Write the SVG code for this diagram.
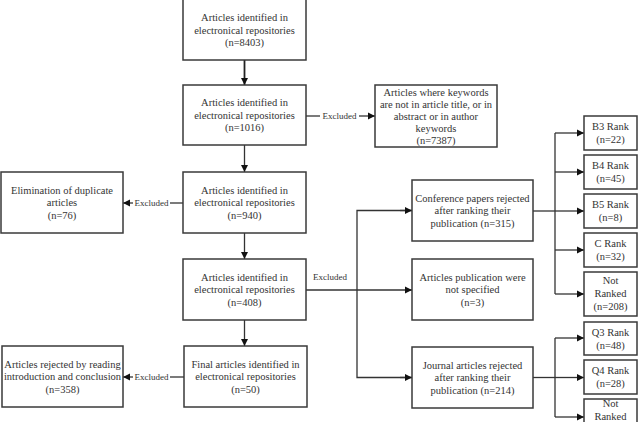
<svg xmlns="http://www.w3.org/2000/svg" width="639" height="422" viewBox="0 0 639 422">
<style>
.box{fill:#fff;stroke:#3a3a3a;stroke-width:1.5}
.t{font-family:"Liberation Serif","Times New Roman",serif;font-size:10.5px;fill:#333;text-anchor:middle}
.ex{font-family:"Liberation Serif","Times New Roman",serif;font-size:9px;fill:#333;text-anchor:middle}
.ln{fill:none;stroke:#333;stroke-width:1.3}
.lnb{fill:none;stroke:#222;stroke-width:1.8}
</style>
<defs>
<marker id="ah" markerUnits="userSpaceOnUse" markerWidth="8" markerHeight="8" refX="7" refY="4" orient="auto">
<path d="M0,0.5 L7,4 L0,7.5 z" fill="#111"/>
</marker>
</defs>
<rect width="639" height="422" fill="#fff"/>

<g id="connectors">
<line class="lnb" x1="244.5" y1="60" x2="244.5" y2="85" marker-end="url(#ah)"/>
<line class="ln" x1="244.5" y1="145" x2="244.5" y2="172" marker-end="url(#ah)"/>
<line class="ln" x1="244.5" y1="233" x2="244.5" y2="259" marker-end="url(#ah)"/>
<line class="ln" x1="244.5" y1="320" x2="244.5" y2="346" marker-end="url(#ah)"/>
<!-- box2 -> keywords -->
<line class="ln" x1="306" y1="116" x2="320" y2="116"/>
<text class="ex" x="339.5" y="119">Excluded</text>
<line class="ln" x1="359" y1="116" x2="375" y2="116" marker-end="url(#ah)"/>
<!-- box3 -> elimination -->
<line class="ln" x1="183" y1="203" x2="170" y2="203"/>
<text class="ex" x="151.5" y="206">Excluded</text>
<line class="ln" x1="133" y1="203" x2="123" y2="203" marker-end="url(#ah)"/>
<!-- box5 -> rejected -->
<line class="ln" x1="184" y1="377" x2="170" y2="377"/>
<text class="ex" x="151.5" y="380">Excluded</text>
<line class="ln" x1="133" y1="377" x2="123" y2="377" marker-end="url(#ah)"/>
<!-- box4 -> three -->
<text class="ex" x="330" y="280">Excluded</text>
<line class="ln" x1="306" y1="290" x2="412" y2="290" marker-end="url(#ah)"/>
<polyline class="ln" points="412,210.5 357,210.5 357,377.5 412,377.5"/>
<line class="ln" x1="400" y1="210.5" x2="412" y2="210.5" marker-end="url(#ah)"/>
<line class="ln" x1="400" y1="377.5" x2="412" y2="377.5" marker-end="url(#ah)"/>
<!-- conference -> ranks -->
<line class="ln" x1="533" y1="211" x2="555" y2="211"/>
<line class="ln" x1="555" y1="133" x2="555" y2="294"/>
<line class="ln" x1="555" y1="133" x2="584" y2="133" marker-end="url(#ah)"/>
<line class="ln" x1="555" y1="172" x2="584" y2="172" marker-end="url(#ah)"/>
<line class="ln" x1="555" y1="211" x2="584" y2="211" marker-end="url(#ah)"/>
<line class="ln" x1="555" y1="250" x2="584" y2="250" marker-end="url(#ah)"/>
<line class="ln" x1="555" y1="294" x2="584" y2="294" marker-end="url(#ah)"/>
<!-- journal -> ranks -->
<line class="ln" x1="533" y1="377.5" x2="555" y2="377.5"/>
<line class="ln" x1="555" y1="338" x2="555" y2="417"/>
<line class="ln" x1="555" y1="338" x2="584" y2="338" marker-end="url(#ah)"/>
<line class="ln" x1="555" y1="377.5" x2="584" y2="377.5" marker-end="url(#ah)"/>
<line class="ln" x1="555" y1="417" x2="584" y2="417" marker-end="url(#ah)"/>
</g>

<g id="n1"><rect class="box" x="183" y="-1" width="123" height="61"/>
<text class="t" x="244.5" y="21">Articles identified in</text><text class="t" x="244.5" y="33.5">electronical repositories</text><text class="t" x="244.5" y="46">(n=8403)</text></g>
<g id="n2"><rect class="box" x="183" y="85" width="123" height="60"/>
<text class="t" x="244.5" y="106">Articles identified in</text><text class="t" x="244.5" y="118.5">electronical repositories</text><text class="t" x="244.5" y="131">(n=1016)</text></g>
<g id="n3"><rect class="box" x="183" y="172" width="123" height="61"/>
<text class="t" x="244.5" y="193.5">Articles identified in</text><text class="t" x="244.5" y="206">electronical repositories</text><text class="t" x="244.5" y="218.5">(n=940)</text></g>
<g id="n4"><rect class="box" x="183" y="259" width="123" height="61"/>
<text class="t" x="244.5" y="280.5">Articles identified in</text><text class="t" x="244.5" y="293">electronical repositories</text><text class="t" x="244.5" y="305.5">(n=408)</text></g>
<g id="n5"><rect class="box" x="184" y="346" width="123" height="61"/>
<text class="t" x="245.5" y="367.5">Final articles identified in</text><text class="t" x="245.5" y="380">electronical repositories</text><text class="t" x="245.5" y="392.5">(n=50)</text></g>

<g id="keywords"><rect class="box" x="375" y="85" width="122" height="62"/>
<text class="t" x="436" y="95.5">Articles where keywords</text><text class="t" x="436" y="107.5">are not in article title, or in</text><text class="t" x="436" y="119.5">abstract or in author</text><text class="t" x="436" y="131.5">keywords</text><text class="t" x="436" y="143.5">(n=7387)</text></g>
<g id="elimination"><rect class="box" x="1" y="172" width="122" height="61"/>
<text class="t" x="62" y="193.5">Elimination of duplicate</text><text class="t" x="62" y="206">articles</text><text class="t" x="62" y="218.5">(n=76)</text></g>
<g id="rejected"><rect class="box" x="2" y="346" width="121" height="61"/>
<text class="t" x="62.5" y="367.5">Articles rejected by reading</text><text class="t" x="62.5" y="380">introduction and conclusion</text><text class="t" x="62.5" y="392.5">(n=358)</text></g>

<g id="conference"><rect class="box" x="412" y="180" width="121" height="61"/>
<text class="t" x="472.5" y="201.5">Conference papers rejected</text><text class="t" x="472.5" y="214">after ranking their</text><text class="t" x="472.5" y="226.5">publication (n=315)</text></g>
<g id="notspecified"><rect class="box" x="412" y="259" width="121" height="61"/>
<text class="t" x="472.5" y="280.5">Articles publication were</text><text class="t" x="472.5" y="293">not specified</text><text class="t" x="472.5" y="305.5">(n=3)</text></g>
<g id="journal"><rect class="box" x="412" y="347" width="121" height="61"/>
<text class="t" x="472.5" y="368.5">Journal articles rejected</text><text class="t" x="472.5" y="381">after ranking their</text><text class="t" x="472.5" y="393.5">publication (n=214)</text></g>

<g id="b3"><rect class="box" x="584" y="116" width="53" height="34"/>
<text class="t" x="610.5" y="130">B3 Rank</text><text class="t" x="610.5" y="143">(n=22)</text></g>
<g id="b4"><rect class="box" x="584" y="155" width="53" height="34"/>
<text class="t" x="610.5" y="169">B4 Rank</text><text class="t" x="610.5" y="182">(n=45)</text></g>
<g id="b5"><rect class="box" x="584" y="194" width="53" height="34"/>
<text class="t" x="610.5" y="208">B5 Rank</text><text class="t" x="610.5" y="221">(n=8)</text></g>
<g id="c"><rect class="box" x="584" y="233" width="53" height="34"/>
<text class="t" x="610.5" y="247">C Rank</text><text class="t" x="610.5" y="260">(n=32)</text></g>
<g id="nr1"><rect class="box" x="584" y="272" width="53" height="44"/>
<text class="t" x="610.5" y="284">Not</text><text class="t" x="610.5" y="297">Ranked</text><text class="t" x="610.5" y="310">(n=208)</text></g>
<g id="q3"><rect class="box" x="584" y="322" width="53" height="33"/>
<text class="t" x="610.5" y="335.5">Q3 Rank</text><text class="t" x="610.5" y="348.5">(n=48)</text></g>
<g id="q4"><rect class="box" x="584" y="360" width="53" height="34"/>
<text class="t" x="610.5" y="374">Q4 Rank</text><text class="t" x="610.5" y="387">(n=28)</text></g>
<g id="nr2"><rect class="box" x="584" y="399" width="53" height="44"/>
<text class="t" x="610.5" y="407">Not</text><text class="t" x="610.5" y="420">Ranked</text></g>
</svg>
